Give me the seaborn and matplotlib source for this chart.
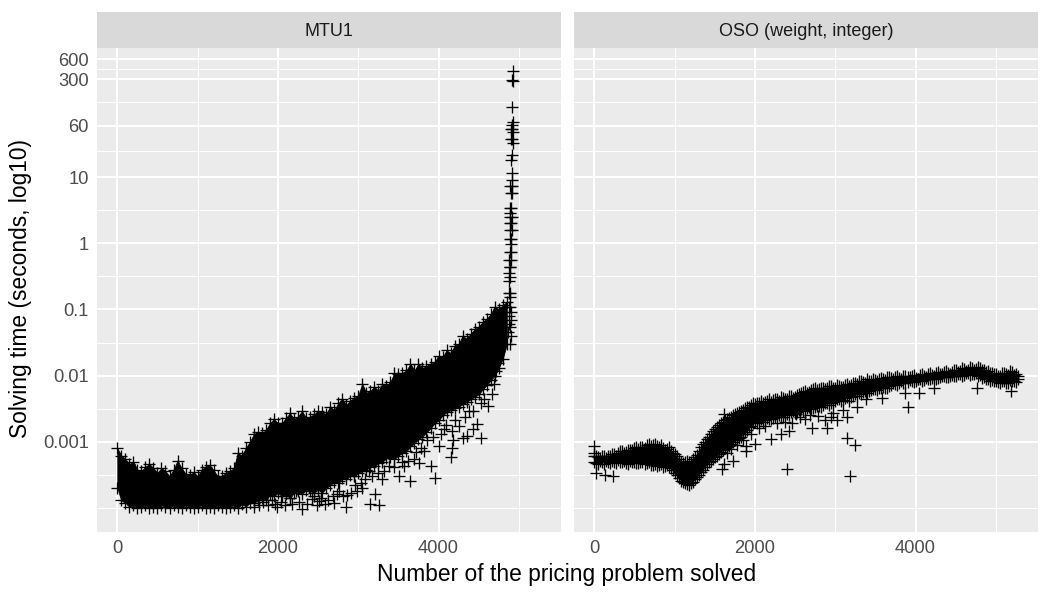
import numpy as np
import pandas as pd
import matplotlib
matplotlib.use("Agg")
import matplotlib.pyplot as plt
from matplotlib.patches import Rectangle
import seaborn as sns

PANELS = ["MTU1", "OSO (weight, integer)"]
X_TICKS = [0, 2000, 4000]
X_MINOR = [1000, 3000, 5000]
Y_TICKS = [0.001, 0.01, 0.1, 1, 10, 60, 300, 600]
Y_TICK_LABELS = ["0.001", "0.01", "0.1", "1", "10", "60", "300", "600"]
Y_MINOR = [0.0001, 0.000316, 0.00316, 0.0316, 0.316, 3.16, 24.5, 134, 424]

# MTU1: upper and lower edge of the point cloud, solving time in milliseconds
mtu_edge_x = [0, 50, 100, 150, 200, 250, 300, 350, 400, 450, 500, 550, 600, 650, 700, 750, 800, 850, 900, 950,
              1000, 1050, 1100, 1150, 1200, 1250, 1300, 1350, 1400, 1450, 1500, 1550, 1600, 1650, 1700, 1750,
              1800, 1850, 1900, 1950, 2000, 2050, 2100, 2150, 2200, 2250, 2300, 2350, 2400, 2450, 2500, 2550,
              2600, 2650, 2700, 2750, 2800, 2850, 2900, 2950, 3000, 3050, 3100, 3150, 3200, 3250, 3300, 3350,
              3400, 3450, 3500, 3550, 3600, 3650, 3700, 3750, 3800, 3850, 3900, 3950, 4000, 4050, 4100, 4150,
              4200, 4250, 4300, 4350, 4400, 4450, 4500, 4550, 4600, 4650, 4700, 4750, 4800, 4850]
mtu_top_ms = [.80, .62, .55, .46, .50, .38, .36, .42, .46, .40, .34, .40, .36, .30, .38, .52, .40, .33, .31, .35,
              .30, .38, .42, .44, .37, .30, .30, .34, .36, .40, .68, .62, .80, 1.0, 1.3, 1.4,
              1.35, 1.5, 1.9, 2.2, 1.9, 1.9, 2.3, 2.7, 2.2, 2.4, 2.9, 2.3, 2.4, 2.6, 2.9, 2.8,
              2.6, 3.4, 3.0, 3.8, 4.5, 3.6, 4.2, 4.6, 5.0, 7.5, 5.5, 5.8, 6.8, 5.9, 7.5, 7.0,
              8.0, 11, 10.5, 11, 12, 15, 12, 15, 13, 14, 15, 16, 20, 19, 24, 22,
              28, 30, 40, 36, 43, 50, 55, 65, 72, 85, 110, 100, 115, 130]
mtu_low_ms = [.20, .13, .12, .105, .11, .10, .105, .11, .10, .105, .10, .11, .105, .10, .11, .105, .10, .11, .105, .10,
              .105, .11, .10, .105, .10, .11, .105, .10, .105, .11, .10, .115, .105, .12, .12, .13,
              .14, .13, .16, .15, .17, .15, .16, .14, .17, .18, .16, .19, .18, .17, .19, .17,
              .20, .22, .25, .24, .28, .27, .31, .30, .34, .36, .38, .42, .43, .47, .50, .56,
              .58, .55, .62, .68, .72, .85, .95, 1.1, 1.2, 1.4, 1.6, 1.9, 2.1, 2.5, 2.8, 3.0,
              3.2, 3.4, 3.7, 4.0, 4.4, 4.8, 5.2, 6.2, 7.2, 8.5, 10, 13, 18, 30]

# MTU1: isolated points below and above the cloud
mtu_stray_x = [1958, 2045, 2145, 2305, 2230, 2330, 2455, 2515, 2390, 2580, 2680, 2765, 2850, 2860, 2765, 2990, 3050,
               2950, 3210, 3150, 3260, 3300, 3140, 3385, 3510, 3645, 3570, 3695, 3757, 3905, 3953, 3820, 4000, 4150,
               4165, 4175, 4165, 4300, 4350, 4525, 4425, 4485, 4250, 4065, 4535, 4660, 4685, 4435, 4620, 4720, 4745,
               1700, 1760, 1820, 1880, 1930, 1990, 2040, 2090, 2180, 2260, 2360, 2420, 2490, 2540, 2620, 2700, 2740,
               2810, 2910, 2960, 3030, 3090, 3170, 3240, 3320, 3440, 3540, 3620, 3720, 3780, 3860, 3930, 4030, 4090,
               4210, 4330, 4380, 4560]
mtu_stray_ms = [.115, .169, .142, .097, .18, .275, .152, .128, .208, .115, .152, .181, .104, .157, .257, .181, .2,
                .306, .163, .115, .11, .275, .363, .43, .306, .257, .43, .55, .48, .43, .285, .73, .87, .59,
                .81, 1.07, 1.47, 1.15, 1.23, 1.15, 1.57, 1.87, 1.75, 1.57, 3.8, 5.3, 7.5, 2.95, 3.5, 11.9, 15.7,
                .105, .11, .125, .11, .13, .105, .125, .11, .115, .125, .115, .135, .11, .14, .13, .12, .165,
                .15, .17, .22, .24, .27, .3, .34, .36, .42, .5, .52, .7, .8, 1.05, 1.2, 1.3, 1.8,
                2.1, 2.4, 2.9, 4.5]

# MTU1: the steep tail at the end of the run, time in seconds
mtu_tail_x = [4925, 4915, 4925, 4915, 4925, 4915, 4920, 4900, 4925, 4915, 4900, 4925, 4910, 4900, 4915, 4910, 4895, 4915,
              4900, 4915, 4890, 4905, 4895, 4910, 4890, 4905, 4895, 4910, 4885, 4905, 4890, 4905, 4885, 4900, 4880,
              4900, 4885, 4895, 4880, 4895, 4875, 4895, 4880, 4895, 4875, 4890,
              4900, 4905, 4895, 4900, 4890, 4880, 4875, 4870]
mtu_tail_s = [400, 290, 285, 115, 68, 61, 53, 53, 48, 38, 38, 33, 21.5, 18, 11.5, 9, 7.3, 7.3, 5.7, 5.7, 3.4, 3.4, 2.85,
              2.5, 2.5, 2.0, 2.0, 1.57, 1.57, 1.15, 1.15, .97, .73, .73, .55, .55, .43, .43, .35, .31, .265, .175,
              .175, .152, .107, .107,
              .09, .07, .055, .04, .03, .08, .06, .045]

# OSO: upper and lower edge of the point cloud, solving time in milliseconds
oso_edge_x = [0, 50, 100, 150, 200, 250, 300, 350, 400, 450, 500, 550, 600, 650, 700, 750, 800, 850, 900, 950,
              1000, 1050, 1100, 1150, 1200, 1250, 1300, 1350, 1400, 1450, 1500, 1550, 1600, 1650, 1700, 1750,
              1800, 1850, 1900, 1950, 2000, 2050, 2100, 2150, 2200, 2250, 2300, 2350, 2400, 2450, 2500, 2550,
              2600, 2650, 2700, 2750, 2800, 2850, 2900, 2950, 3000, 3050, 3100, 3150, 3200, 3250, 3300, 3350,
              3400, 3450, 3500, 3550, 3600, 3650, 3700, 3750, 3800, 3850, 3900, 3950, 4000, 4050, 4100, 4150,
              4200, 4250, 4300, 4350, 4400, 4450, 4500, 4550, 4600, 4650, 4700, 4750, 4800, 4850, 4900, 4950,
              5000, 5050, 5100, 5150, 5200, 5250, 5280]
oso_top_ms = [.62, .58, .60, .57, .62, .65, .68, .72, .70, .76, .80, .78, .84, .90, .86, .92, .82, .80, .78, .72,
              .66, .55, .48, .52, .50, .58, .72, .92, 1.1, 1.3, 1.55, 1.8, 2.0, 2.2, 2.4, 2.6,
              2.8, 3.0, 3.3, 3.6, 3.7, 3.9, 3.8, 4.2, 4.0, 4.4, 4.2, 4.6, 4.5, 5.0, 4.8, 5.2,
              5.6, 5.4, 6.0, 6.4, 6.2, 6.6, 6.4, 6.9, 6.6, 7.0, 6.8, 7.4, 7.2, 7.6, 8.2, 8.0,
              8.8, 8.4, 8.6, 9.0, 8.8, 9.4, 9.2, 9.6, 9.2, 9.8, 9.4, 9.8, 9.2, 10.2, 9.8, 10.4,
              10.2, 11, 10.6, 11.4, 10.8, 11.2, 12, 11.6, 12.4, 12, 13, 12.4, 13.2, 12.2, 11.6, 11,
              10.4, 10, 10.8, 10.2, 11.4, 10.6, 9.8]
oso_low_ms = [.50, .46, .50, .52, .48, .50, .53, .50, .48, .52, .50, .47, .50, .47, .44, .46, .45, .42, .44, .40,
              .34, .28, .25, .23, .24, .27, .32, .38, .46, .52, .58, .66, .76, .82, .92, 1.05,
              1.15, 1.3, 1.5, 1.75, 2.0, 2.1, 2.0, 2.3, 2.2, 2.4, 2.5, 2.4, 2.6, 2.8, 2.7, 3.0,
              2.9, 3.2, 3.1, 3.4, 3.5, 3.6, 3.9, 3.8, 4.2, 4.4, 4.3, 4.8, 4.7, 5.2, 5.4, 5.6,
              5.4, 6.0, 6.2, 6.4, 6.8, 6.6, 7.2, 7.4, 7.8, 7.6, 8.0, 8.4, 8.2, 8.8, 8.6, 9.0,
              9.2, 9.0, 9.4, 9.8, 9.6, 10.2, 9.8, 10.4, 10.2, 10.8, 10.4, 11.0, 10.2, 9.4, 9.0, 8.6,
              8.2, 7.8, 8.2, 7.6, 8.4, 8.0, 9.0]

# OSO: in-between readings of both edges, halfway along each column
oso_mid_x = [25, 75, 125, 175, 225, 275, 325, 375, 425, 475, 525, 575, 625, 675, 725, 775, 825, 875, 925, 975,
             1025, 1075, 1125, 1175, 1225, 1275, 1325, 1375, 1425, 1475, 1525, 1575, 1625, 1675, 1725, 1775,
             1825, 1875, 1925, 1975, 2025, 2075, 2125, 2175, 2225, 2275, 2325, 2375, 2425, 2475, 2525, 2575,
             2625, 2675, 2725, 2775, 2825, 2875, 2925, 2975, 3025, 3075, 3125, 3175, 3225, 3275, 3325, 3375,
             3425, 3475, 3525, 3575, 3625, 3675, 3725, 3775, 3825, 3875, 3925, 3975, 4025, 4075, 4125, 4175,
             4225, 4275, 4325, 4375, 4425, 4475, 4525, 4575, 4625, 4675, 4725, 4775, 4825, 4875, 4925, 4975,
             5025, 5075, 5125, 5175, 5225]
oso_mid_top_ms = [.60, .56, .62, .60, .66, .62, .72, .68, .75, .74, .84, .82, .80, .94, .90, .86, .88, .76, .82, .68,
                  .60, .50, .50, .50, .54, .64, .82, 1.0, 1.2, 1.45, 1.7, 1.9, 2.1, 2.3, 2.5, 2.7,
                  2.9, 3.2, 3.4, 3.8, 3.8, 4.1, 4.0, 4.4, 4.3, 4.5, 4.7, 4.4, 4.9, 4.6, 5.1, 5.4,
                  5.8, 5.7, 6.3, 6.1, 6.6, 6.3, 6.9, 6.5, 7.2, 6.7, 7.3, 7.0, 7.6, 7.4, 8.4, 7.8,
                  8.2, 8.8, 8.4, 9.2, 8.6, 9.6, 8.9, 9.8, 9.0, 10, 9.6, 10.2, 9.0, 10.4, 9.6, 10.8,
                  10, 11.4, 10.4, 11.8, 10.6, 12, 11.4, 12.8, 11.8, 13.4, 12.2, 13.6, 12, 11.4, 10.8, 10.6,
                  10, 11, 10.4, 11.6, 10.2]
oso_mid_low_ms = [.48, .52, .46, .50, .52, .47, .50, .52, .46, .50, .48, .50, .46, .49, .45, .43, .46, .43, .41, .37,
                  .31, .26, .24, .22, .25, .29, .35, .42, .49, .54, .62, .70, .80, .86, .98, 1.1,
                  1.2, 1.4, 1.65, 1.9, 1.9, 2.2, 2.1, 2.2, 2.3, 2.6, 2.4, 2.7, 2.5, 2.9, 2.8, 3.1,
                  3.0, 3.3, 3.2, 3.5, 3.3, 3.8, 3.6, 4.0, 4.5, 4.1, 4.6, 4.2, 5.0, 5.0, 5.2, 5.8,
                  5.8, 6.3, 6.0, 6.6, 6.5, 7.0, 7.6, 7.2, 8.2, 7.8, 8.6, 8.0, 9.0, 8.4, 9.2, 8.8,
                  9.4, 9.2, 9.9, 9.4, 10, 9.7, 10.6, 10, 10.9, 10.1, 10.7, 9.8, 9.2, 8.8, 8.4, 8.2,
                  8.0, 8.4, 7.8, 8.6, 8.2]

# OSO: isolated points around the cloud
oso_stray_x = [0, 0, 25, 136, 235, 2405, 1585, 1620, 1725, 1620, 1895, 1895, 1995, 2205, 2330, 2430, 2465, 2515,
               2710, 2900, 2875, 3025, 3150, 3150, 3240, 3190, 3900, 3870, 4040, 4770, 5190, 4225, 3385, 3580,
               2790, 2975, 2565,
               1650, 1700, 1780, 1850, 1950, 2050, 2120, 2280, 2380, 2620, 2680, 2950, 3100, 3270]
oso_stray_ms = [.87, .68, .34, .316, .306, .39, .39, .46, .515, 2.65, .73, .87, .93, 1.1, 1.32, 1.47, 1.94, 2.65,
                1.63, 1.63, 2.15, 2.15, 2.4, 1.15, .9, .306, 3.4, 5.5, 5.5, 6.6, 5.9, 6.6, 4.5, 4.6,
                2.48, 2.75, 2.4,
                .68, .78, .9, 1.05, 1.3, 1.6, 1.75, 1.9, 2.0, 2.2, 2.5, 2.4, 3.0, 3.4]

mtu_x = mtu_edge_x + mtu_edge_x + mtu_stray_x
mtu_ms = mtu_top_ms + mtu_low_ms + mtu_stray_ms
oso_x = oso_edge_x + oso_edge_x + oso_mid_x + oso_mid_x + oso_stray_x
oso_ms = oso_top_ms + oso_low_ms + oso_mid_top_ms + oso_mid_low_ms + oso_stray_ms

points = pd.concat([
    pd.DataFrame({"solver": PANELS[0], "n": mtu_x, "seconds": np.array(mtu_ms) / 1000}),
    pd.DataFrame({"solver": PANELS[0], "n": mtu_tail_x, "seconds": mtu_tail_s}),
    pd.DataFrame({"solver": PANELS[1], "n": oso_x, "seconds": np.array(oso_ms) / 1000}),
])

sns.set_theme(style="darkgrid", rc={
    "axes.facecolor": "#EBEBEB",
    "grid.color": "white",
    "axes.edgecolor": "none",
    "font.family": ["Liberation Sans", "DejaVu Sans"],
})

g = sns.FacetGrid(points, col="solver", col_order=PANELS, sharex=True, sharey=True, height=6, aspect=0.875)
g.map_dataframe(sns.scatterplot, x="n", y="seconds", marker="+", s=76, color="black", linewidth=0.95, zorder=3)

g.figure.set_size_inches(10.5, 6)
g.figure.subplots_adjust(left=97 / 1050, right=1038 / 1050, top=1 - 48 / 600, bottom=1 - 532 / 600, wspace=13 / 464)

# Between its two edges the cloud overplots into solid black
edges = {
    PANELS[0]: (mtu_edge_x, mtu_low_ms, mtu_top_ms),
    PANELS[1]: (oso_edge_x, oso_low_ms, oso_top_ms),
}

for name, ax in g.axes_dict.items():
    ex, lo, hi = edges[name]
    ax.fill_between(ex, np.array(lo) / 1000, np.array(hi) / 1000, color="black", lw=0.6, zorder=2.5)

    ax.set_yscale("log")
    ax.set_xlim(-253, 5525)
    ax.set_ylim(10 ** -4.363, 10 ** 2.949)
    ax.set_xticks(X_TICKS)
    ax.set_xticks(X_MINOR, minor=True)
    ax.set_yticks(Y_TICKS, labels=Y_TICK_LABELS)
    ax.set_yticks(Y_MINOR, labels=[""] * len(Y_MINOR), minor=True)
    ax.grid(True, which="major", color="white", linewidth=1.5, zorder=1)
    ax.grid(True, which="minor", color="white", linewidth=0.75, zorder=1)
    ax.set_axisbelow(True)
    ax.tick_params(which="major", length=3.4, width=1.0, color="#333333", labelcolor="#4D4D4D",
                   labelsize=13.2, pad=2.5)
    ax.tick_params(which="minor", length=0)
    for side in ax.spines.values():
        side.set_visible(False)
    ax.set_xlabel("")
    ax.set_ylabel("")
    ax.set_title("")
    # Facet strip above the panel
    ax.add_patch(Rectangle((0, 1), 1, 36 / 484, transform=ax.transAxes, facecolor="#D9D9D9",
                           edgecolor="none", clip_on=False, zorder=4))
    ax.text(0.5, 1 + 17 / 484, name, transform=ax.transAxes, ha="center", va="center",
            fontsize=13, color="#1A1A1A", zorder=5)

g.axes_dict[PANELS[1]].tick_params(axis="y", which="major", length=0, labelleft=False)

g.figure.text(567 / 1050, 1 - 575 / 600, "Number of the pricing problem solved", ha="center", va="center",
              fontsize=16.4, color="black")
g.figure.text(20.5 / 1050, 1 - 289 / 600, "Solving time (seconds, log10)", ha="center", va="center",
              rotation=90, fontsize=16.4, color="black")

g.figure.savefig("out.png", dpi=100)
